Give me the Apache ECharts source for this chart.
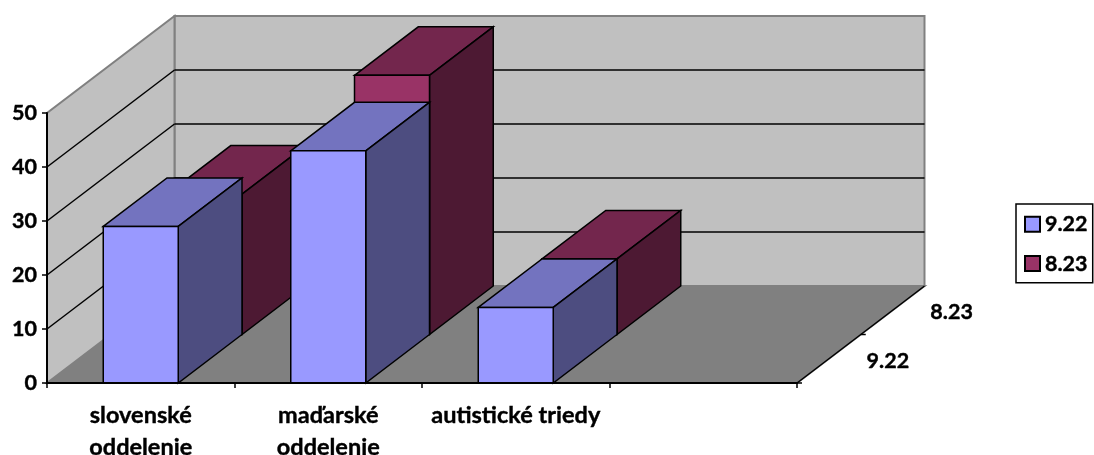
<!DOCTYPE html>
<html>
<head>
<meta charset="utf-8">
<style>html,body{margin:0;padding:0;background:#fff}#c{width:1094px;height:455px}</style>
<script src="https://cdn.jsdelivr.net/npm/echarts@6/dist/echarts.min.js"></script>
</head>
<body>
<div id="c"></div>
<script>
const categories = ['slovenské\noddelenie', 'maďarské\noddelenie', 'autistické triedy', ''];
const seriesNames = ['9.22', '8.23'];
const values922 = [29, 43, 14];
const values823 = [26, 48, 14];
const yTicks = [0, 10, 20, 30, 40, 50];

const FONT = 'Lato';
const DEPTH = [127.5, -97];
const ROWS = 2;
const BAR_RATIO = 0.4;
const LINE = '#000';
const HEAVY = { textBorderColor: '#000', textBorderWidth: 0.4 };

function add(p, row) { return [p[0] + DEPTH[0] * row / ROWS, p[1] + DEPTH[1] * row / ROWS]; }
function poly(points, fill, stroke, lw) {
  return { type: 'polygon', shape: { points }, style: { fill, stroke: stroke || 'none', lineWidth: lw === undefined ? 1 : lw, lineJoin: 'miter' } };
}
function seg(a, b, stroke, lw) {
  return { type: 'line', shape: { x1: a[0], y1: a[1], x2: b[0], y2: b[1] }, style: { stroke, lineWidth: lw } };
}

function renderWalls(params, api) {
  const step = api.size([1, 0])[0];
  const left = api.coord([0, 0])[0] - step / 2;
  const right = left + step * categories.length;
  const yb = api.coord([0, 0])[1];
  const yt = api.coord([0, 50])[1];
  const A = [left, yb], B = [right, yb], T = [left, yt];
  const back = p => add(p, ROWS);
  const kids = [
    poly([A, back(A), back(B), B], '#808080', '#808080', 2),
    poly([back(A), back(T), back([right, yt]), back(B)], '#c0c0c0', '#808080', 2),
    poly([A, T, back(T), back(A)], '#c0c0c0', '#808080', 2)
  ];
  yTicks.slice(1, -1).forEach(v => {
    const y = api.coord([0, v])[1];
    kids.push(seg([left, y], back([left, y]), LINE, 1.5));
    kids.push(seg(back([left, y]), back([right, y]), LINE, 1.5));
  });
  kids.push(seg(B, back(B), LINE, 1.5));
  for (let r = 0; r < ROWS; r++) {
    const p = add(B, r);
    kids.push(seg(p, [p[0] + 5, p[1]], LINE, 1.5));
    const mid = add(B, r + 0.5);
    kids.push({ type: 'text', x: mid[0] + 59, y: mid[1] + 2,
      style: Object.assign({ text: seriesNames[r], font: 'bold 21.5px ' + FONT, fill: '#000', align: 'center', verticalAlign: 'middle' }, { stroke: '#000', lineWidth: 0.4 }) });
  }
  return { type: 'group', children: kids };
}

function barRenderer(row, front, top, side) {
  return function (params, api) {
    const c = api.coord([api.value(0), api.value(1)]);
    const c0 = api.coord([api.value(0), 0]);
    const w = api.size([1, 0])[0] * BAR_RATIO;
    const fbl = add([c0[0] - w / 2, c0[1]], row), fbr = add([c0[0] + w / 2, c0[1]], row);
    const ftl = add([c[0] - w / 2, c[1]], row), ftr = add([c[0] + w / 2, c[1]], row);
    const b = p => add(p, 1);
    return { type: 'group', children: [
      poly([ftl, b(ftl), b(ftr), ftr], top, LINE, 1.5),
      poly([fbr, ftr, b(ftr), b(fbr)], side, LINE, 1.5),
      poly([fbl, ftl, ftr, fbr], front, LINE, 1.5)
    ] };
  };
}

const chart = echarts.init(document.getElementById('c'), null, { renderer: 'canvas' });
chart.setOption({
  animation: false,
  backgroundColor: '#fff',
  textStyle: { fontFamily: FONT },
  grid: { left: 47, right: 297, top: 113, bottom: 72, containLabel: false, outerBoundsMode: 'none' },
  legend: {
    data: seriesNames,
    orient: 'vertical',
    left: 1016, top: 204,
    padding: [9, 5, 8, 8],
    itemWidth: 15, itemHeight: 15, itemGap: 17,
    icon: 'rect',
    borderColor: '#000', borderWidth: 1.5, borderRadius: 0,
    selectedMode: false,
    textStyle: Object.assign({ fontFamily: FONT, fontWeight: 'bold', fontSize: 21.5, color: '#000' }, HEAVY)
  },
  xAxis: {
    type: 'category', data: categories, z: 6,
    axisLine: { lineStyle: { color: '#000', width: 2 } },
    axisTick: { show: true, alignWithLabel: false, length: 5, lineStyle: { color: '#000', width: 1.5 } },
    axisLabel: Object.assign({ interval: 0, margin: 16, fontFamily: FONT, fontWeight: 'bold', fontSize: 23.5, lineHeight: 32, color: '#000', hideOverlap: false }, HEAVY),
    splitLine: { show: false }
  },
  yAxis: {
    type: 'value', min: 0, max: 50, interval: 10, z: 6,
    axisLine: { show: true, lineStyle: { color: '#000', width: 2 } },
    axisTick: { show: true, length: 5, lineStyle: { color: '#000', width: 1.5 } },
    axisLabel: Object.assign({ margin: 10, fontFamily: FONT, fontWeight: 'bold', fontSize: 21.5, color: '#000' }, HEAVY),
    splitLine: { show: false }
  },
  series: [
    { type: 'custom', name: 'walls', z: 1, silent: true, data: [[0, 0]], encode: { x: 0, y: 1 }, renderItem: renderWalls },
    { type: 'custom', name: seriesNames[1], z: 2, silent: true,
      itemStyle: { color: '#993366', borderColor: '#000', borderWidth: 1.5 },
      data: values823.map((v, i) => [i, v]), encode: { x: 0, y: 1 },
      renderItem: barRenderer(1, '#993366', '#73264d', '#4d1933') },
    { type: 'custom', name: seriesNames[0], z: 3, silent: true,
      itemStyle: { color: '#9999ff', borderColor: '#000', borderWidth: 1.5 },
      data: values922.map((v, i) => [i, v]), encode: { x: 0, y: 1 },
      renderItem: barRenderer(0, '#9999ff', '#7373bf', '#4d4d80') }
  ]
});
</script>
</body>
</html>
